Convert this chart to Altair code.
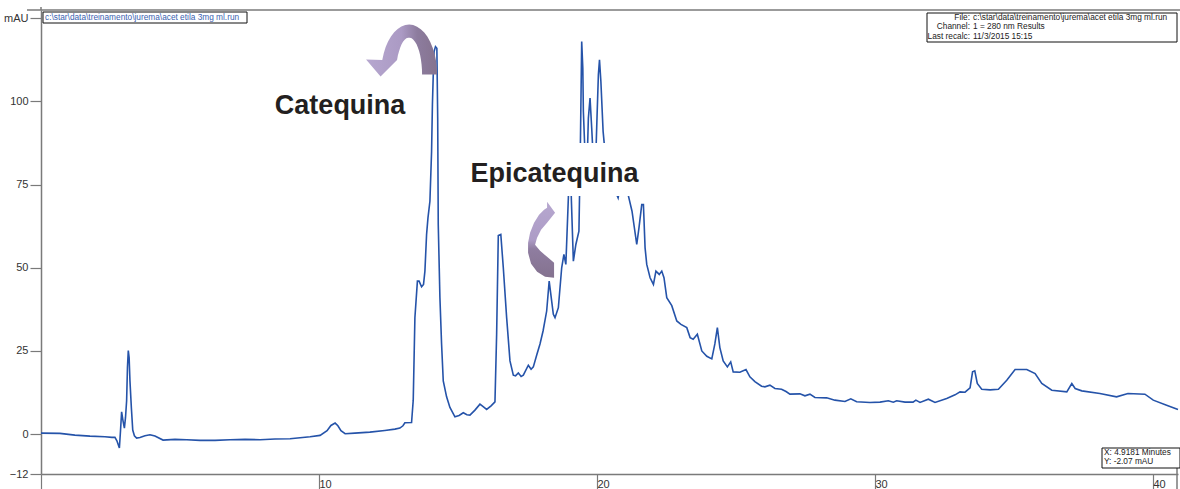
import math
import altair as alt
import pandas as pd

# --- chromatogram trace (retention time in minutes, absorbance in mAU) ---
minutes = [
    0.00, 0.68, 1.22, 1.76, 2.30, 2.55, 2.66, 2.73, 2.82, 2.86, 2.90, 2.95, 3.00, 3.04,
    3.08, 3.11, 3.14, 3.17, 3.20, 3.25, 3.30, 3.36, 3.44, 3.56, 3.74, 3.92, 4.10, 4.39,
    4.82, 5.24, 5.72, 6.26, 6.80, 7.34, 7.88, 8.42, 8.96, 9.32, 9.68, 10.04, 10.29, 10.43,
    10.58, 10.68, 10.79, 10.94, 11.29, 11.83, 12.37, 12.73, 12.91, 13.02, 13.09, 13.33,
    13.39, 13.45, 13.54, 13.60, 13.69, 13.76, 13.81, 13.87, 13.92, 13.99, 14.05, 14.08,
    14.11, 14.14, 14.19, 14.24, 14.27, 14.29, 14.35, 14.41, 14.47, 14.59, 14.71, 14.89,
    15.04, 15.19, 15.32, 15.43, 15.61, 15.79, 15.94, 16.03, 16.19, 16.33, 16.39, 16.45,
    16.54, 16.63, 16.75, 16.87, 16.99, 17.07, 17.17, 17.27, 17.35, 17.53, 17.63, 17.71,
    17.84, 17.95, 18.06, 18.19, 18.28, 18.37, 18.43, 18.49, 18.61, 18.73, 18.81, 18.88,
    18.97, 19.03, 19.08, 19.15, 19.24, 19.35, 19.40, 19.45, 19.49, 19.51, 19.57, 19.64,
    19.69, 19.75, 19.81, 19.87, 19.93, 20.00, 20.05, 20.09, 20.14, 20.22, 20.32, 20.47,
    20.61, 20.76, 20.90, 21.04, 21.12, 21.26, 21.43, 21.51, 21.61, 21.67, 21.73, 21.79,
    21.91, 22.03, 22.12, 22.24, 22.33, 22.41, 22.51, 22.69, 22.87, 23.02, 23.23, 23.35,
    23.46, 23.61, 23.77, 23.95, 24.13, 24.24, 24.33, 24.42, 24.54, 24.69, 24.81, 24.90,
    25.14, 25.36, 25.50, 25.68, 25.92, 26.04, 26.22, 26.40, 26.64, 26.80, 26.94, 27.30,
    27.48, 27.66, 27.84, 28.26, 28.56, 28.92, 29.13, 29.34, 29.82, 30.18, 30.48, 30.66,
    30.78, 31.08, 31.37, 31.47, 31.62, 31.92, 32.16, 32.58, 32.88, 33.06, 33.24, 33.42,
    33.51, 33.59, 33.68, 33.84, 34.14, 34.44, 34.74, 35.04, 35.46, 35.76, 36.00, 36.36,
    36.90, 37.08, 37.20, 37.44, 38.09, 38.69, 39.10, 39.71, 40.01, 40.49, 40.90,
]
mau = [
    0.3, 0.2, -0.3, -0.6, -0.8, -1.0, -1.0, -2.0, -4.2, 1.0, 6.7, 4.0, 1.8, 5.0,
    10.0, 20.0, 25.1, 23.0, 16.0, 8.0, 1.2, -0.5, -1.2, -1.0, -0.5, -0.2, -0.6, -1.8,
    -1.6, -1.7, -1.9, -1.9, -1.7, -1.6, -1.7, -1.5, -1.4, -1.1, -0.8, -0.4, 1.0, 2.6,
    3.3, 2.5, 1.0, 0.1, 0.3, 0.6, 1.1, 1.5, 1.8, 2.5, 3.4, 3.5,
    10.2, 35.0, 46.0, 46.0, 44.3, 45.0, 49.0, 60.0, 65.0, 70.0, 85.0, 99.0,
    108.0, 115.0, 116.5, 116.0, 95.0, 63.0, 41.0, 27.0, 16.0, 11.2, 8.0, 5.2,
    5.6, 6.4, 5.8, 5.7, 7.2, 9.0, 8.0, 7.4, 8.5, 9.7, 30.0, 59.7,
    60.0, 50.0, 35.0, 22.0, 17.7, 17.5, 18.4, 17.3, 17.7, 20.7, 19.5, 20.2,
    24.0, 27.1, 31.0, 37.0, 46.0, 40.0, 36.0, 35.0, 38.0, 50.0, 54.0, 51.0,
    71.0, 86.0, 70.0, 52.0, 57.0, 61.0, 85.0, 118.0, 110.0, 97.0, 84.0, 80.0,
    95.0, 101.0, 92.0, 82.0, 76.0, 95.0, 108.0, 112.5, 106.0, 91.0, 82.0, 77.0,
    74.0, 71.0, 78.0, 87.0, 72.0, 67.0, 57.0, 62.0, 69.0, 69.0, 56.0, 51.0,
    47.0, 45.0, 49.0, 48.0, 49.0, 47.0, 41.0, 38.6, 34.0, 33.0, 32.0, 29.0,
    28.5, 30.0, 25.0, 23.4, 22.6, 27.1, 32.0, 26.0, 22.0, 20.2, 21.7, 18.7,
    18.6, 19.4, 17.2, 15.8, 14.4, 14.2, 14.7, 13.7, 13.5, 12.8, 12.0, 12.1,
    11.5, 12.0, 11.0, 10.9, 10.2, 9.8, 10.6, 9.7, 9.5, 9.6, 10.0, 9.6,
    10.0, 9.6, 9.6, 10.2, 9.5, 10.5, 9.5, 10.7, 11.8, 12.7, 12.6, 13.9,
    18.7, 19.0, 15.2, 13.5, 13.3, 13.5, 16.2, 19.4, 19.4, 18.2, 15.2, 13.2,
    12.7, 15.2, 13.7, 13.0, 12.2, 11.2, 12.2, 12.0, 10.2, 8.7, 7.4,
]

x_ticks = [0, 10, 20, 30, 40]
y_ticks = [-12, 0, 25, 50, 75, 100, 125]

# peak labels: text, retention time, absorbance of the baseline of the text
peak_names = ["Catequina", "Epicatequina"]
peak_label_min = [10.76, 18.47]
peak_label_mau = [96.1, 75.7]

file_path = "c:\\star\\data\\treinamento\\jurema\\acet etila 3mg ml.run"
info_keys = ["File:", "Channel:", "Last recalc:"]
info_vals = [file_path, "1 = 280 nm Results", "11/3/2015 15:15"]
cursor_lines = ["X:  4.9181 Minutes", "Y: -2.07 mAU"]

W, H = 1137, 464
LINE_BLUE = "#2553a9"
AXIS_GREY = "#7a7a7a"
FONT = "Liberation Sans"

x_scale = alt.Scale(domain=[0, 40.9], nice=False, zero=False)
y_scale = alt.Scale(domain=[-12, 127.5], nice=False, zero=False)

trace = pd.DataFrame({"min": minutes, "mau": mau})

line = alt.Chart(trace).mark_line(color=LINE_BLUE, strokeWidth=1.6, interpolate="linear").encode(
    x=alt.X("min:Q", scale=x_scale, axis=alt.Axis(
        values=x_ticks, title=None, grid=False, labelAlign="left",
        labelBaseline="top", tickSize=15, labelPadding=-11, labelFlush=False,
        labelOverlap=False, labelExpr="datum.value == 0 ? '' : datum.label")),
    y=alt.Y("mau:Q", scale=y_scale, axis=alt.Axis(
        values=y_ticks, title=None, grid=False, tickSize=11, labelPadding=2,
        labelOverlap=False, labelFlush=False,
        labelExpr="datum.value == 125 ? 'mAU' : datum.label")),
)

# white backing behind the Epicatequina label
backing = alt.Chart(pd.DataFrame({"x": [15.14], "x2": [21.58], "y": [71.6], "y2": [87.5]})).mark_rect(
    fill="white", strokeWidth=0
).encode(x=alt.X("x:Q", scale=x_scale), x2="x2:Q", y=alt.Y("y:Q", scale=y_scale), y2="y2:Q")

labels = alt.Chart(pd.DataFrame({"name": peak_names, "t": peak_label_min, "v": peak_label_mau})).mark_text(
    font=FONT, fontSize=27, fontWeight="bold", color="#231f20", align="center", baseline="alphabetic"
).encode(x=alt.X("t:Q", scale=x_scale), y=alt.Y("v:Q", scale=y_scale), text="name:N")


def svg_path(points):
    return "M" + " L".join(f"{x:.1f},{y:.1f}" for x, y in points) + " Z"


def ellipse(a, b, deg0, deg1, n=20):
    out = []
    for i in range(n + 1):
        t = math.radians(deg0 + (deg1 - deg0) * i / n)
        out.append((a * math.cos(t), -b * math.sin(t)))
    return out


# curved arrow over the Catequina peak (pointing down)
arrow1_path = svg_path(
    ellipse(28, 50, 0, 163)
    + [(-43, -15), (-28.5, 2), (-11.5, -15)]
    + ellipse(13, 37, 157, 0)
)
# curved arrow beside the Epicatequina peak (pointing right)
arrow2_path = svg_path([
    (1, 37), (-8, 36), (-16, 31), (-22, 23), (-25, 12), (-25, 2), (-23, -8), (-19, -18),
    (-14, -26), (-9, -31), (-6, -33),
    (-6, -39), (2, -28), (-6, -18),
    (-12, -11), (-16, -3), (-18, 4), (-13, 10), (-6, 16), (1, 22),
])

grad_h = alt.LinearGradient(gradient="linear", x1=0, x2=1, y1=0, y2=0, stops=[
    alt.GradientStop(color="#b6a7cf", offset=0),
    alt.GradientStop(color="#ab9ac4", offset=0.5),
    alt.GradientStop(color="#8d7c9e", offset=0.72),
    alt.GradientStop(color="#85738f", offset=1),
])
grad_v = alt.LinearGradient(gradient="linear", x1=0, x2=0, y1=0, y2=1, stops=[
    alt.GradientStop(color="#b6a7cf", offset=0),
    alt.GradientStop(color="#ad9cc6", offset=0.5),
    alt.GradientStop(color="#8f7da0", offset=0.62),
    alt.GradientStop(color="#84728f", offset=1),
])


def arrow(path, grad, t, v):
    return alt.Chart(pd.DataFrame({"t": [t], "v": [v]})).mark_point(
        shape=path, size=4, filled=True, fill=grad, opacity=1, fillOpacity=1, strokeWidth=0
    ).encode(x=alt.X("t:Q", scale=x_scale), y=alt.Y("v:Q", scale=y_scale))


arrow1 = arrow(arrow1_path, grad_h, 13.24, 108.1)
arrow2 = arrow(arrow2_path, grad_v, 18.42, 58.1)

one = alt.Data(values=[{}])


def prule(x, y, x2=None, y2=None, color=AXIS_GREY, width=1.5):
    enc = {"x": alt.value(x), "y": alt.value(y)}
    if x2 is not None:
        enc["x2"] = alt.value(x2)
    if y2 is not None:
        enc["y2"] = alt.value(y2)
    return alt.Chart(one).mark_rule(color=color, strokeWidth=width).encode(**enc)


def pbox(x, x2, y, y2):
    return alt.Chart(one).mark_rect(fill="white", stroke="#111111", strokeWidth=1).encode(
        x=alt.value(x), x2=alt.value(x2), y=alt.value(y), y2=alt.value(y2))


def ptext(txt, x, y, align="left", color="#222222", size=8.3):
    return alt.Chart(one).mark_text(
        text=txt, font=FONT, fontSize=size, color=color, align=align, baseline="middle"
    ).encode(x=alt.value(x), y=alt.value(y))


frame = [
    prule(-14, 0, x2=W + 2),
    prule(0, -3, y2=0),
    prule(W - 1, H - 6, y2=H + 15),
]

boxes = [pbox(2, 206, 2, 13), ptext(file_path, 4, 7.5, color="#3a5fb0")]
boxes.append(pbox(886, 1136, 3, 32))
for i, (k, val) in enumerate(zip(info_keys, info_vals)):
    boxes.append(ptext(k, 929, 7.5 + 9.5 * i, align="right"))
    boxes.append(ptext(val, 932, 7.5 + 9.5 * i))
boxes.append(pbox(1061, 1139, 438, 458))
for i, txt in enumerate(cursor_lines):
    boxes.append(ptext(txt, 1063, 443 + 9 * i))

chart = alt.layer(line, backing, labels, arrow1, arrow2, *frame, *boxes).properties(
    width=W, height=H,
    padding={"left": 41, "top": 10, "right": 2, "bottom": 15},
    autosize=alt.AutoSizeParams(type="none"),
    background="white",
).configure_view(strokeWidth=0).configure_axis(
    domainColor=AXIS_GREY, domainWidth=1.5, tickColor=AXIS_GREY, tickWidth=1.2,
    labelColor="#333333", labelFont=FONT, labelFontSize=11,
)

chart.save("out.html", embed_options={"renderer": "svg", "actions": False})
